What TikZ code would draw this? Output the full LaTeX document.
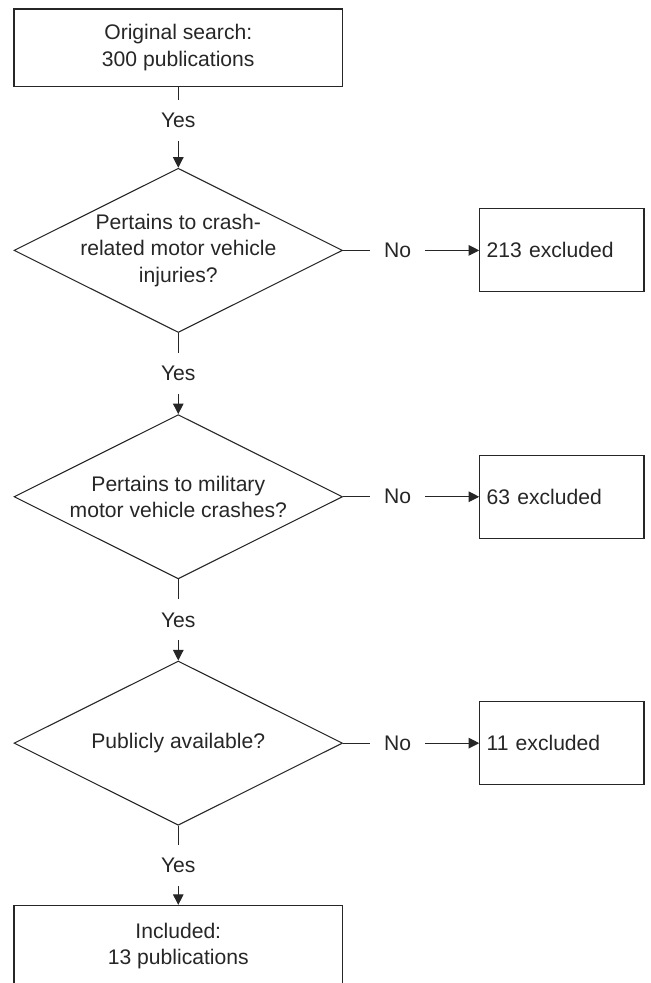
\documentclass[tikz,border=0pt]{standalone}
\usepackage{fontspec}
\setmainfont{Liberation Sans}
\usetikzlibrary{arrows.meta, positioning, shapes.geometric}

\begin{document}
\begin{tikzpicture}[
    ->,
    >={Triangle[length=6pt, width=6pt]},
    node distance=4.92cm,
    on grid,
    color=black!85,
    line width=0.6pt,
    font=\fontsize{12}{15}\selectfont,
    box/.style={rectangle, draw, minimum width=6.56cm, minimum height=1.54cm, align=center},
    decision/.style={diamond, draw, aspect=2, inner sep=-4pt, minimum width=6.56cm, minimum height=3.28cm, align=center},
    excl/.style={rectangle, draw, minimum width=3.28cm, minimum height=1.66cm, text width=3cm, inner xsep=0.14cm, align=left},
    yeslab/.style={fill=white, minimum height=0.82cm, inner sep=1pt},
    nolab/.style={fill=white, pos=.4, minimum width=1.1cm, inner sep=1pt},
]

    \useasboundingbox (-3.56, 0.95) rectangle (9.44, -18.68);

    \node[box]                              (start)    {Original search:\\300 publications};
    \node[decision, below=4.05cm of start]  (crash)    {Pertains to crash-\\related motor vehicle\\injuries?};
    \node[decision, below=of crash]         (military) {Pertains to military\\motor vehicle crashes?};
    \node[decision, below=of military]      (public)   {Publicly available?};
    \node[box, below=4.05cm of public, minimum height=1.62cm] (incl) {Included:\\13 publications};

    \node[excl, right=7.66cm of crash]    (exCrash)    {213 excluded};
    \node[excl, right=7.66cm of military] (exMilitary) {63 excluded};
    \node[excl, right=7.66cm of public]   (exPublic)   {11 excluded};

    \path
        (start)    edge node [yeslab, pos=.42] {Yes} (crash)
        (crash)    edge node [yeslab]          {Yes} (military)
        (military) edge node [yeslab]          {Yes} (public)
        (public)   edge node [yeslab]          {Yes} (incl)
        (crash)    edge node [nolab] {No} (exCrash)
        (military) edge node [nolab] {No} (exMilitary)
        (public)   edge node [nolab] {No} (exPublic)
    ;
\end{tikzpicture}
\end{document}
